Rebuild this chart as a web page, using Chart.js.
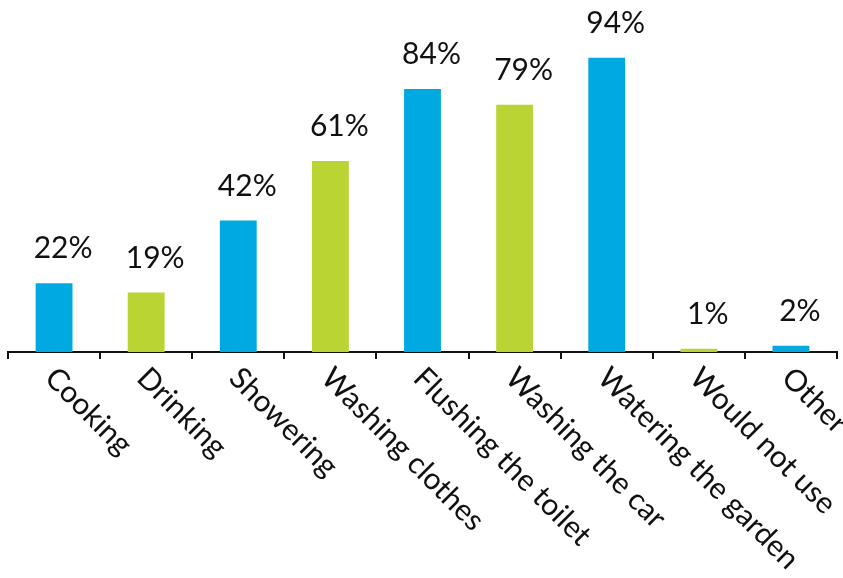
<!DOCTYPE html>
<html>
<head>
<meta charset="utf-8">
<script src="https://cdn.jsdelivr.net/npm/chart.js@4/dist/chart.umd.min.js"></script>
<style>
  html, body { margin: 0; padding: 0; background: #fff; }
  #wrap { width: 843px; height: 578px; }
</style>
</head>
<body>
<div id="wrap"><canvas id="barChart"></canvas></div>
<script>
const categories = ["Cooking", "Drinking", "Showering", "Washing clothes", "Flushing the toilet",
  "Washing the car", "Watering the garden", "Would not use", "Other"];
const values = [22, 19, 42, 61, 84, 79, 94, 1, 2];
const valueLabels = ["22%", "19%", "42%", "61%", "84%", "79%", "94%", "1%", "2%"];

const BLUE = "#00A9E2";
const GREEN = "#B9D433";
const barColors = categories.map((c, i) => (i % 2 === 0 ? BLUE : GREEN));

const FONT = "30px Lato, 'Open Sans', sans-serif";

// draws the % labels above bars and the slanted category labels
const labelPlugin = {
  id: "labelPlugin",
  afterDatasetsDraw(chart) {
    const ctx = chart.ctx;
    const meta = chart.getDatasetMeta(0);
    const xScale = chart.scales.x;
    const axisY = chart.chartArea.bottom;

    ctx.save();
    ctx.font = FONT;
    ctx.fillStyle = "#111";

    meta.data.forEach((bar, i) => {
      ctx.textAlign = "center";
      ctx.textBaseline = "alphabetic";
      ctx.fillText(valueLabels[i], bar.x + 9, bar.y - 25);
    });

    categories.forEach((cat, i) => {
      const x = xScale.getPixelForValue(i);
      ctx.save();
      ctx.translate(x - 4, axisY + 21);
      ctx.rotate(Math.PI / 4);
      ctx.textAlign = "left";
      ctx.textBaseline = "middle";
      ctx.fillText(cat, 0, 0);
      ctx.restore();
    });
    ctx.restore();
  },
};

new Chart(document.getElementById("barChart").getContext("2d"), {
  type: "bar",
  data: {
    labels: categories,
    datasets: [
      {
        data: values,
        backgroundColor: barColors,
        borderWidth: 0,
        barPercentage: 0.4,
        categoryPercentage: 1,
      },
    ],
  },
  options: {
    responsive: true,
    maintainAspectRatio: false,
    animation: false,
    layout: { padding: { left: 8, right: 6, top: 39, bottom: 219 } },
    plugins: {
      legend: { display: false },
      tooltip: { enabled: false },
    },
    scales: {
      y: {
        display: false,
        min: 0,
        max: 100,
      },
      x: {
        ticks: { display: false },
        grid: {
          display: true,
          drawOnChartArea: false,
          drawTicks: true,
          tickLength: 7,
          color: "#111",
          lineWidth: 2,
        },
        border: { display: true, color: "#111", width: 2 },
      },
    },
  },
  plugins: [labelPlugin],
});
</script>
</body>
</html>
